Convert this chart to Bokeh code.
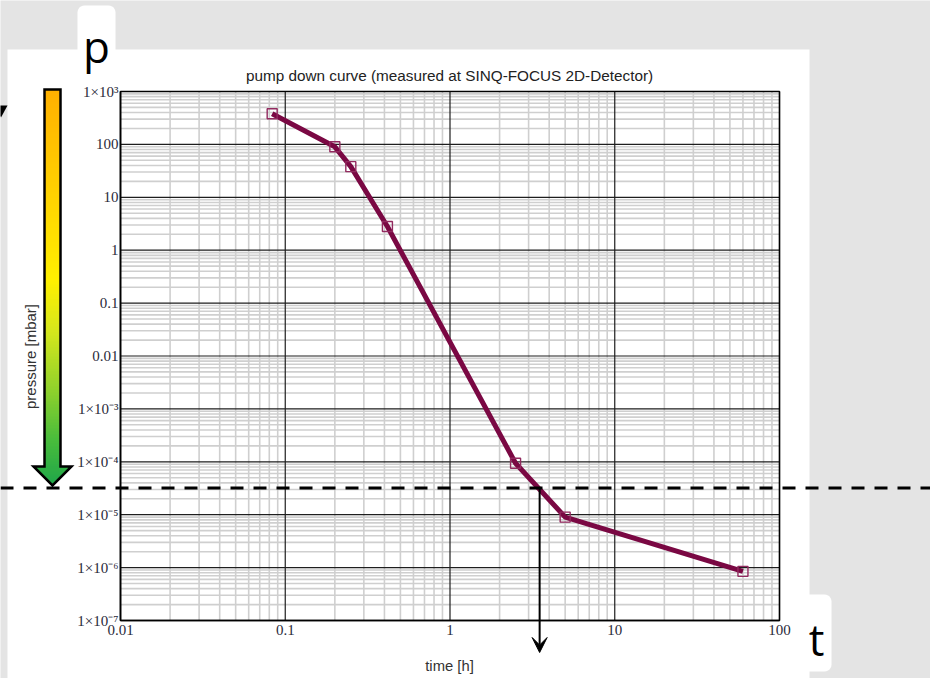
import math
from bokeh.plotting import figure
from bokeh.models import (Range1d, FixedTicker, Label, Arrow, VeeHead, Span,
                          LinearScale)
from bokeh.embed import file_html
from bokeh.resources import INLINE

# ---------------- data ----------------
time_h = [0.0833, 0.2, 0.25, 0.417, 2.5, 5.0, 60.0]
pressure_mbar = [380, 90, 38, 2.8, 9.4e-5, 9.0e-6, 8.5e-7]
threshold_mbar = 3.2e-5
threshold_time_h = 3.5

x_ticks = [0.01, 0.1, 1, 10, 100]
x_tick_labels = ["0.01", "0.1", "1", "10", "100"]
y_ticks = [1e-7, 1e-6, 1e-5, 1e-4, 1e-3, 0.01, 0.1, 1, 10, 100, 1000]
y_tick_labels = ["1×10⁻⁷", "1×10⁻⁶", "1×10⁻⁵", "1×10⁻⁴", "1×10⁻³",
                 "0.01", "0.1", "1", "10", "100", "1×10³"]

title_text = "pump down curve (measured at SINQ-FOCUS 2D-Detector)"
x_label_text = "time [h]"
y_label_text = "pressure [mbar]"

# ---------------- layout constants (canvas pixels) ----------------
W, H = 930, 678
FL, FR, FT, FB = 120, 779, 91, 620   # chart area
GRAY = "#e4e4e4"
CURVE = "#7a0843"

X0, X1 = x_ticks[0], x_ticks[-1]
Y0, Y1 = y_ticks[0], y_ticks[-1]
x_dec = (FR - FL) / math.log10(X1 / X0)
y_dec = (FB - FT) / math.log10(Y1 / Y0)
# log ranges extended so that the whole canvas is the frame
x_range = Range1d(10 ** (math.log10(X0) - FL / x_dec), 10 ** (math.log10(X1) + (W - FR) / x_dec))
y_range = Range1d(10 ** (math.log10(Y0) - (H - FB) / y_dec), 10 ** (math.log10(Y1) + FT / y_dec))

p = figure(width=W, height=H, x_axis_type="log", y_axis_type="log",
           x_range=x_range, y_range=y_range,
           min_border=0, min_border_left=0, min_border_right=0,
           min_border_top=0, min_border_bottom=0,
           toolbar_location=None, output_backend="svg")
p.extra_x_ranges = {"px": Range1d(0, W)}
p.extra_y_ranges = {"py": Range1d(H, 0)}
p.extra_x_scales = {"px": LinearScale()}
p.extra_y_scales = {"py": LinearScale()}
p.background_fill_color = GRAY
p.border_fill_color = GRAY
p.outline_line_color = None
p.xgrid.visible = False
p.ygrid.visible = False

PX = dict(x_range_name="px", y_range_name="py")

# ---------------- page decoration ----------------
def rrect(l, r, t, b, rad, n=6):
    xs, ys = [], []
    corners = [(r - rad, t + rad, -90, 0), (r - rad, b - rad, 0, 90),
               (l + rad, b - rad, 90, 180), (l + rad, t + rad, 180, 270)]
    for cx_, cy_, a0, a1 in corners:
        for k in range(n + 1):
            a = math.radians(a0 + (a1 - a0) * k / n)
            xs.append(cx_ + rad * math.cos(a))
            ys.append(cy_ + rad * math.sin(a))
    return xs, ys

p.quad(left=[7], right=[809], top=[49], bottom=[H + 5], fill_color="white",
       line_color=None, **PX)
tab_p = rrect(77, 115, 5, 62, 7)
tab_t = rrect(796, 831, 594, 671, 7)
p.patches(xs=[tab_p[0], tab_t[0]], ys=[tab_p[1], tab_t[1]], fill_color="white",
          line_color=None, **PX)
p.patch(x=[-6, 7, 0.5], y=[105, 105, 117], fill_color="black", line_color=None, **PX)

# gradient arrow (orange -> yellow -> green)
stops = [(89, (255, 176, 0)), (200, (255, 212, 0)), (280, (255, 240, 0)),
         (330, (214, 231, 28)), (390, (143, 209, 44)), (440, (72, 188, 60)),
         (486, (30, 165, 74))]

def grad(y):
    for (y0, c0), (y1, c1) in zip(stops[:-1], stops[1:]):
        if y <= y1:
            f = max(0.0, min(1.0, (y - y0) / (y1 - y0)))
            r, g_, b = (round(a + (bb - a) * f) for a, bb in zip(c0, c1))
            return "#%02x%02x%02x" % (r, g_, b)
    return "#%02x%02x%02x" % stops[-1][1]

band_t, band_b, band_c = [], [], []
yy = 89.0
while yy < 466:
    band_t.append(yy)
    band_b.append(min(yy + 3.6, 467))
    band_c.append(grad(yy + 1.5))
    yy += 3
p.quad(left=44, right=60, top=band_t, bottom=band_b, fill_color=band_c,
       line_color=None, **PX)
cx, head_top, tip = 52, 466, 485
hx, hy, hc = [], [], []
yy = head_top
while yy < tip:
    y1 = min(yy + 2, tip)
    w0, w1 = (tip - yy), (tip - y1)
    hx.append([cx - w0, cx + w0, cx + w1, cx - w1])
    hy.append([yy, yy, y1 + 0.6, y1 + 0.6])
    hc.append(grad(yy + 1))
    yy = y1
p.patches(xs=hx, ys=hy, fill_color=hc, line_color=None, **PX)
p.patch(x=[44, 60, 60, 71, cx, 33, 44, 44],
        y=[89, 89, head_top, head_top, tip, head_top, head_top, 89],
        fill_color=None, line_color="black", line_width=2.5, line_join="miter", **PX)

# ---------------- grid of the chart ----------------
x_minor = [m * 10.0 ** e for e in range(-2, 2) for m in range(2, 10)]
y_minor = [m * 10.0 ** e for e in range(-7, 3) for m in range(2, 10)]
p.segment(x0=x_minor, x1=x_minor, y0=Y0, y1=Y1, line_color="#cfcfcf", line_width=1.6)
p.segment(x0=X0, x1=X1, y0=y_minor, y1=y_minor, line_color="#cfcfcf", line_width=1.6)
p.segment(x0=x_ticks, x1=x_ticks, y0=Y0, y1=Y1, line_color="#1e1e1e", line_width=1.2)
p.segment(x0=X0, x1=X1, y0=y_ticks, y1=y_ticks, line_color="#1e1e1e", line_width=1.2)
p.quad(left=[X0], right=[X1], bottom=[Y0], top=[Y1], fill_color=None,
       line_color="black", line_width=1.5)

# ---------------- axes (drawn at the chart's edges) ----------------
p.xaxis.ticker = FixedTicker(ticks=x_ticks, minor_ticks=[])
p.yaxis.ticker = FixedTicker(ticks=y_ticks, minor_ticks=[])
p.xaxis.major_label_overrides = {float(v): s for v, s in zip(x_ticks, x_tick_labels)}
p.yaxis.major_label_overrides = {float(v): s for v, s in zip(y_ticks, y_tick_labels)}
p.xaxis.fixed_location = Y0
p.yaxis.fixed_location = X0
p.xaxis.bounds = (X0, X1)
p.yaxis.bounds = (Y0, Y1)
for ax in (p.xaxis[0], p.yaxis[0]):
    ax.major_tick_out = 0
    ax.major_tick_in = 0
    ax.minor_tick_out = 0
    ax.minor_tick_in = 0
    ax.axis_line_color = "black"
    ax.axis_line_width = 1.5
    ax.major_label_text_font = "Liberation Serif"
    ax.major_label_text_font_size = "15px"
    ax.major_label_text_color = "#2a2a3a"
p.yaxis.major_label_standoff = 2
p.xaxis.major_label_standoff = 4

# ---------------- curve ----------------
p.line(time_h, pressure_mbar, line_color=CURVE, line_width=5)
p.scatter(time_h, pressure_mbar, marker="square", size=10,
          fill_color=None, line_color="#922a5f", line_width=1.4)

# ---------------- threshold lines ----------------
p.add_layout(Span(location=threshold_mbar, dimension="width", line_color="black",
                  line_width=3, line_dash="13 10"))
arrow_end = 10 ** (math.log10(Y0) - (652 - FB) / y_dec)
p.add_layout(Arrow(x_start=threshold_time_h, x_end=threshold_time_h,
                   y_start=threshold_mbar, y_end=arrow_end,
                   line_color="black", line_width=2,
                   end=VeeHead(size=15, fill_color="black", line_color="black")))

# ---------------- texts ----------------
def px_label(x, y, text, size, font="Liberation Sans", color="#333333", angle=0.0,
             baseline="middle"):
    return Label(x=x, y=y, text=text, text_font=font, text_font_size=size,
                 text_color=color, text_align="center", text_baseline=baseline,
                 angle=angle, **PX)

p.add_layout(px_label(449, 75, title_text, "15.3px", color="#222222"))
p.add_layout(px_label(449, 665, x_label_text, "14.8px"))
p.add_layout(px_label(29.5, 356, y_label_text, "15px", angle=math.pi / 2))
p.add_layout(px_label(96, 45, "p", "44px", font="Open Sans", color="black",
                      baseline="alphabetic"))
p.add_layout(px_label(816, 638, "t", "44px", font="Open Sans", color="black",
                      baseline="alphabetic"))

open("out.html", "w").write(file_html(p, INLINE))
